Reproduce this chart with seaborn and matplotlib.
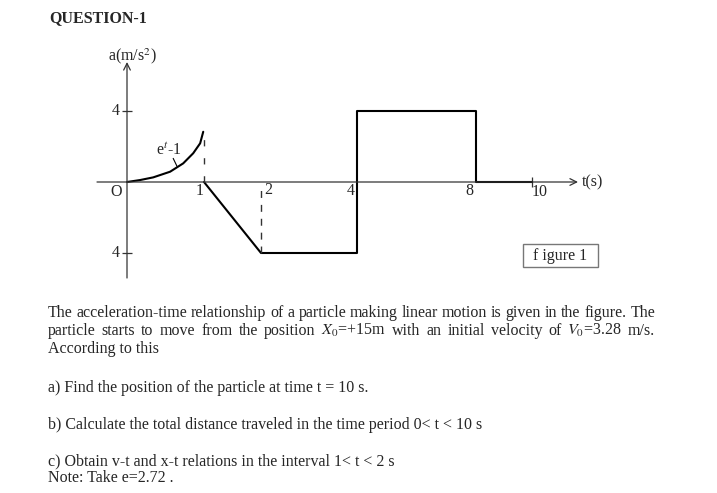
import numpy as np
import matplotlib
matplotlib.use("Agg")
import matplotlib.pyplot as plt
import matplotlib.patches as patches
import seaborn as sns

# a(t)
T_CURVE = [0, 0.17, 0.34, 0.56, 0.73, 0.86, 0.95, 0.99]
A_CURVE = [0, 0.11, 0.26, 0.58, 1.05, 1.62, 2.18, 2.83]
T_PIECE = [1, 2, 4, 4, 8, 8, 10]
A_PIECE = [0, -4, -4, 4, 4, 0, 0]
T_TICKS = [0, 1, 2, 4, 8, 10]
T_TICK_LABELS = ["O", "1", "2", "4", "8", "10"]
A_TICKS = [4, -4]
A_TICK_LABELS = ["4", "4"]

# the sketch is not drawn to scale: pixel position of each tick on the t axis
T_KNOTS = [-5, 0, 1, 2, 4, 8, 10, 20]
X_KNOTS = [127 - 5 * 77, 127, 204, 261, 357, 476, 532, 532 + 10 * 28]

W, H = 717, 493

sns.set_style("white")
plt.rcParams["font.family"] = ["Liberation Serif", "DejaVu Serif"]
plt.rcParams["mathtext.fontset"] = "stix"


def fx(x):
    return x / W


def fy(y):
    return 1 - y / H


def forward(t):
    return np.interp(t, T_KNOTS, X_KNOTS)


def inverse(p):
    return np.interp(p, X_KNOTS, T_KNOTS)


def justified(fig, text, x0, x1, y, **kw):
    words = text.split(" ")
    texts = [fig.text(0, fy(y), w, va="baseline", ha="left", **kw) for w in words]
    r = fig.canvas.get_renderer()
    widths = [t.get_window_extent(r).width for t in texts]
    gap = (x1 - x0 - sum(widths)) / (len(words) - 1)
    x = x0
    for t, w in zip(texts, widths):
        t.set_x(fx(x))
        x += w + gap


fig = plt.figure(figsize=(W / 100, H / 100), dpi=100)
fig.patch.set_facecolor("white")

ax = fig.add_axes([fx(97), fy(278), (578 - 97) / W, (278 - 62) / H])
ax.set_xscale("function", functions=(forward, inverse))
xmin, xmax = float(inverse(97)), float(inverse(578))
ymin, ymax = -(278 - 182) / 17.75, (182 - 62) / 17.75
ax.set_xlim(xmin, xmax)
ax.set_ylim(ymin, ymax)
ax.axis("off")

# axes with arrows
arrow = dict(arrowstyle="->", color="#333333", lw=0.9, shrinkA=0, shrinkB=0,
             mutation_scale=12)
ax.annotate("", xy=(xmax, 0), xytext=(xmin, 0), arrowprops=arrow,
            annotation_clip=False)
ax.annotate("", xy=(0, ymax), xytext=(0, ymin), arrowprops=arrow,
            annotation_clip=False)

# ticks
for a in A_TICKS:
    ax.plot([0], [a], marker="_", ms=6.5, mew=0.9, color="#333333")
ax.plot([10], [0], marker="|", ms=6.5, mew=0.9, color="#333333")

# data
sns.lineplot(x=T_CURVE, y=A_CURVE, ax=ax, color="black", lw=1.5,
             sort=False, estimator=None)
sns.lineplot(x=T_PIECE, y=A_PIECE, ax=ax, color="black", lw=1.5,
             sort=False, estimator=None)
ax.plot([1, 1], [0, 2.7], color="#333333", lw=1.0, ls=(0, (4.5, 8.5)))
ax.plot([2, 2], [-4, -0.35], color="#333333", lw=1.0, ls=(0, (5, 5)))

# labels
offsets = {"O": (-11, -10), "1": (-4, -9), "2": (7, -8), "4": (-6, -9),
           "8": (-7, -9), "10": (8, -10)}
for t, lab in zip(T_TICKS, T_TICK_LABELS):
    ax.annotate(lab, (t, 0), xytext=offsets[lab], textcoords="offset pixels",
                ha="center", va="center", fontsize=11.5)
for a, lab in zip(A_TICKS, A_TICK_LABELS):
    ax.annotate(lab, (0, a), xytext=(-7, 0), textcoords="offset pixels",
                ha="right", va="center", fontsize=11.5)
ax.annotate("t(s)", (xmax, 0), xytext=(4, 0), textcoords="offset pixels",
            ha="left", va="center", fontsize=11.5, annotation_clip=False)
ax.annotate("a(m/s$^2$)", (0, ymax), xytext=(5, -4), textcoords="offset pixels",
            ha="center", va="bottom", fontsize=11.5, annotation_clip=False)
ax.text(0.545, 1.75, "e$^t$-1", ha="center", va="center", fontsize=11.5)
ax.plot([0.60, 0.65], [1.33, 0.88], color="black", lw=0.8)

# figure box
fig.patches.append(patches.Rectangle((fx(523), fy(267)), 75 / W, 23 / H,
                                     transform=fig.transFigure, fill=False,
                                     edgecolor="#777777", lw=1.0))
fig.text(fx(560.5), fy(256), "f igure 1", ha="center", va="center", fontsize=11.5)

# question text
fig.text(fx(49), fy(18), "QUESTION-1", ha="left", va="center",
         fontsize=11.5, fontweight="bold")
justified(fig, "The acceleration-time relationship of a particle making linear "
               "motion is given in the figure. The", 48, 655, 317, fontsize=11.5)
justified(fig, "particle starts to move from the position $X_0$=+15m with an "
               "initial velocity of $V_0$=3.28 m/s.", 48, 655, 335, fontsize=11.5)
body = [("According to this", 353),
        ("a) Find the position of the particle at time t = 10 s.", 392),
        ("b) Calculate the total distance traveled in the time period 0< t < 10 s", 429),
        ("c) Obtain v-t and x-t relations in the interval 1< t < 2 s", 465),
        ("Note: Take e=2.72 .", 482)]
for txt, y in body:
    fig.text(fx(48), fy(y), txt, ha="left", va="baseline", fontsize=11.5)

fig.savefig("out.png", dpi=100)
